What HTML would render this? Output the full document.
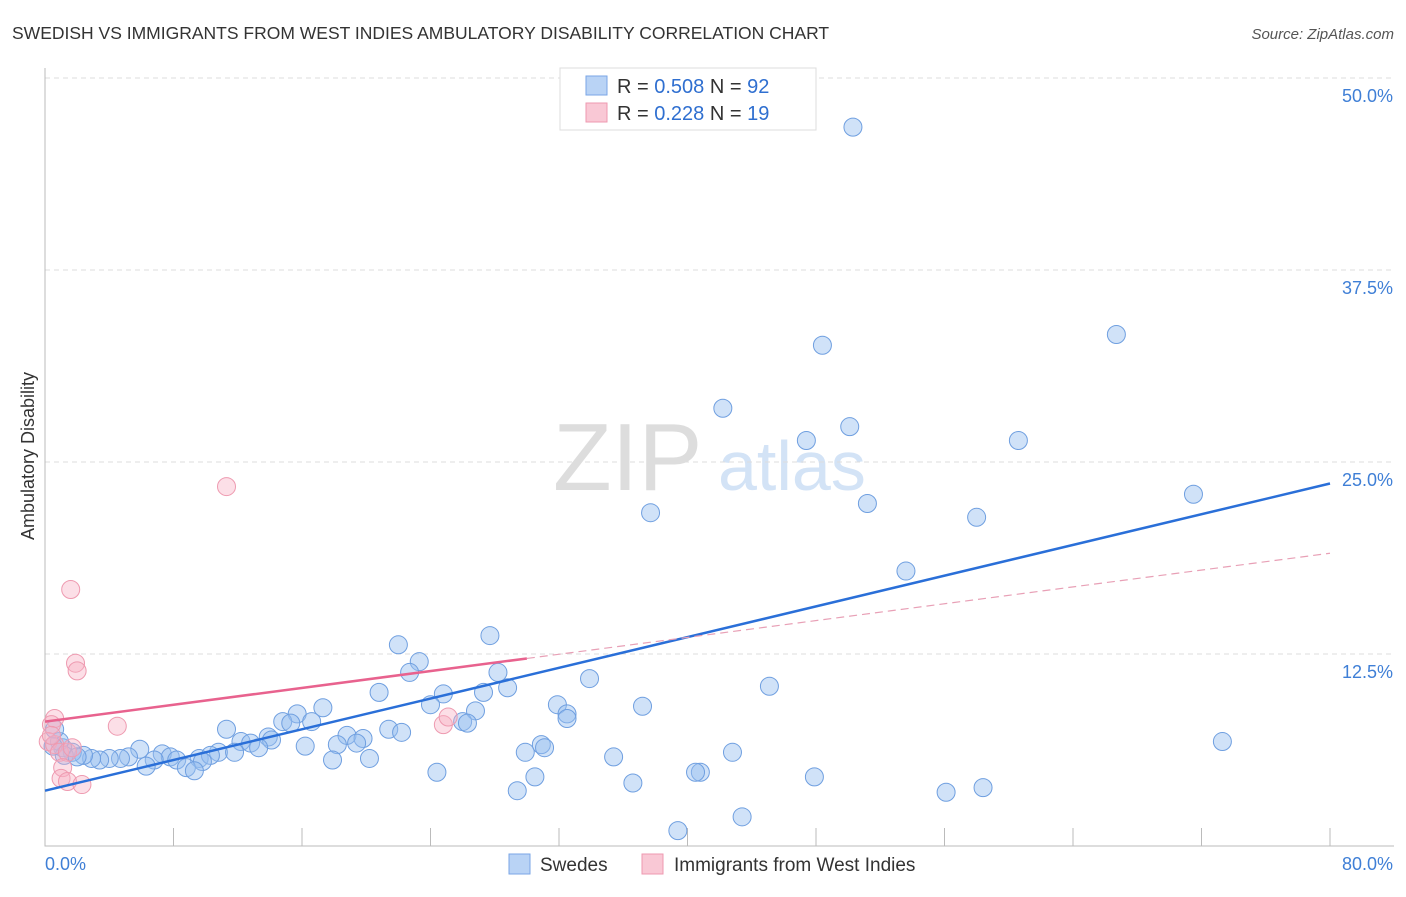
<!DOCTYPE html>
<html><head><meta charset="utf-8"><style>
body{margin:0;background:#fff;font-family:"Liberation Sans",sans-serif}
svg text{font-family:"Liberation Sans",sans-serif}
</style></head><body>
<svg id="chart" width="1406" height="892" viewBox="0 0 1406 892" xmlns="http://www.w3.org/2000/svg">
<text x="12" y="39" font-size="17.5" fill="#333">SWEDISH VS IMMIGRANTS FROM WEST INDIES AMBULATORY DISABILITY CORRELATION CHART</text>
<text x="1394" y="39" font-size="15" fill="#555" text-anchor="end" font-style="italic">Source: ZipAtlas.com</text>
<g>
<text x="553" y="490" font-size="96" fill="#ddd" font-family="Liberation Serif, serif">ZIP</text>
<text x="718" y="490" font-size="70" fill="#d3e3f6">atlas</text>
</g>
<g id="grid"></g>
<g id="axes"></g>
<g id="marks"></g>
<g>
<rect x="560" y="68" width="256" height="62" fill="#fff" stroke="#ddd"/>
<rect x="586" y="76" width="21" height="19" fill="#b9d3f5" stroke="#7aa6e6"/>
<rect x="586" y="103" width="21" height="19" fill="#f9c8d5" stroke="#ee99b0"/>
<text x="617" y="93" font-size="20" fill="#333">R = <tspan fill="#2f6fd0">0.508</tspan>   N = <tspan fill="#2f6fd0">92</tspan></text>
<text x="617" y="120" font-size="20" fill="#333">R =  <tspan fill="#2f6fd0">0.228</tspan>   N =  <tspan fill="#2f6fd0">19</tspan></text>
</g>
<g>
<rect x="509" y="854" width="21" height="20" fill="#b9d3f5" stroke="#7aa6e6"/>
<text x="540" y="871" font-size="19" fill="#333">Swedes</text>
<rect x="642" y="854" width="21" height="20" fill="#f9c8d5" stroke="#ee99b0"/>
<text x="674" y="871" font-size="19" fill="#333">Immigrants from West Indies</text>
</g>
</svg>
<script>
const blueX=[50.3,48.4,66.7,42.2,47.4,50.1,60.6,37.7,51.2,58.0,71.5,53.6,27.7,22.0,23.3,22.7,28.2,33.9,20.8,24.8,27.3,28.8,45.1,24.0,31.9,37.2,17.3,26.8,32.5,32.5,15.7,14.8,15.3,16.6,26.0,26.3,11.3,21.4,22.2,18.8,19.8,13.9,12.2,12.8,14.1,19.4,18.2,16.2,5.9,13.3,30.9,31.1,29.9,73.3,42.8,10.8,11.8,7.3,7.8,35.4,6.8,9.6,10.3,8.2,9.8,17.9,20.2,5.2,4.7,4.0,3.4,2.9,2.4,1.7,1.1,0.9,6.3,8.8,9.3,40.8,40.5,24.4,30.5,47.9,36.6,58.4,56.1,29.4,43.4,39.4,0.6,1.2,2.0,0.5];
const blueY=[46.8,32.6,33.3,28.5,26.4,27.3,26.4,21.7,22.3,21.4,22.9,17.9,13.7,13.1,12.0,11.3,11.3,10.9,10.0,9.9,10.0,10.3,10.4,9.2,9.2,9.1,9.0,8.8,8.6,8.3,8.6,8.1,8.0,8.1,8.1,8.0,7.6,7.6,7.4,7.2,7.0,7.1,6.8,6.7,6.9,6.7,6.6,6.5,6.3,6.4,6.6,6.4,6.1,6.8,6.1,6.1,6.1,6.0,5.8,5.8,5.6,5.7,5.9,5.6,5.5,5.6,5.7,5.8,5.7,5.7,5.6,5.7,5.9,6.1,6.4,6.8,5.2,5.1,4.9,4.8,4.8,4.8,4.5,4.5,4.1,3.8,3.5,3.6,1.9,1.0,7.6,5.9,5.8,6.5];
const pinkX=[0.6,0.4,0.2,0.6,0.9,1.4,1.7,1.1,1.0,1.4,2.3,4.5,11.3,1.6,1.9,2.0,24.8,25.1,0.4];
const pinkY=[8.3,7.9,6.8,6.6,6.1,6.1,6.4,5.1,4.4,4.2,4.0,7.8,23.4,16.7,11.9,11.4,7.9,8.4,7.2];
const blueTrend=[3.6,0.25];
const pinkTrend=[8.1,0.137];
const pinkSolidEnd=30.0;
const yTicks=[12.5,25.0,37.5,50.0];
const xTickLabels=["0.0%","80.0%"];
const NS="http://www.w3.org/2000/svg";
const X=v=>45+v/80*1285, Y=v=>846-v/12.5*192;
function mk(tag,attrs,parent){const e=document.createElementNS(NS,tag);for(const k in attrs)e.setAttribute(k,attrs[k]);parent.appendChild(e);return e;}
const grid=document.getElementById('grid'),axes=document.getElementById('axes'),marks=document.getElementById('marks');
yTicks.forEach(t=>{
  const l=mk('line',{x1:45,x2:1394,y1:Y(t),y2:Y(t),stroke:'#ddd','stroke-dasharray':'5,4'},grid);
  
  
  const tx=mk('text',{x:1393,y:Y(t)+24,'font-size':18,fill:'#3f7fd6','text-anchor':'end'},axes);
  tx.textContent=t.toFixed(1)+'%';
  
  
});
const ax=mk('path',{d:'M45 68V846H1394',fill:'none',stroke:'#bbb'},axes);


for(let i=0;i<=10;i++){
  const t=mk('line',{x1:X(i*8),x2:X(i*8),y1:828,y2:846,stroke:'#bbb'},axes);
  
  
}
const xl0=mk('text',{x:45,y:870,'font-size':18,fill:'#3f7fd6'},axes);xl0.textContent=xTickLabels[0];


const xl1=mk('text',{x:1393,y:870,'font-size':18,fill:'#3f7fd6','text-anchor':'end'},axes);xl1.textContent=xTickLabels[1];


const yt=mk('text',{x:0,y:0,'font-size':18,fill:'#333','text-anchor':'middle',transform:'translate(34,456) rotate(-90)'},axes);yt.textContent='Ambulatory Disability';


blueX.forEach((v,i)=>{
  const c=mk('circle',{cx:X(v),cy:Y(blueY[i]),r:9,fill:'rgba(150,190,240,0.45)',stroke:'#6f9fe0','stroke-width':1},marks);
  
  
});
pinkX.forEach((v,i)=>{
  const c=mk('circle',{cx:X(v),cy:Y(pinkY[i]),r:9,fill:'rgba(247,175,195,0.4)',stroke:'#ee9ab0','stroke-width':1},marks);
  
  
});
const bl=mk('line',{x1:X(0),y1:Y(blueTrend[0]),x2:X(80),y2:Y(blueTrend[0]+blueTrend[1]*80),stroke:'#2a6fd8','stroke-width':2.5},marks);


const pl=mk('line',{x1:X(0),y1:Y(pinkTrend[0]),x2:X(pinkSolidEnd),y2:Y(pinkTrend[0]+pinkTrend[1]*pinkSolidEnd),stroke:'#e8628e','stroke-width':2.5},marks);


const pd=mk('line',{x1:X(pinkSolidEnd),y1:Y(pinkTrend[0]+pinkTrend[1]*pinkSolidEnd),x2:X(80),y2:Y(pinkTrend[0]+pinkTrend[1]*80),stroke:'#e8a0b6','stroke-width':1.2,'stroke-dasharray':'8,5'},marks);


</script>
</body></html>
